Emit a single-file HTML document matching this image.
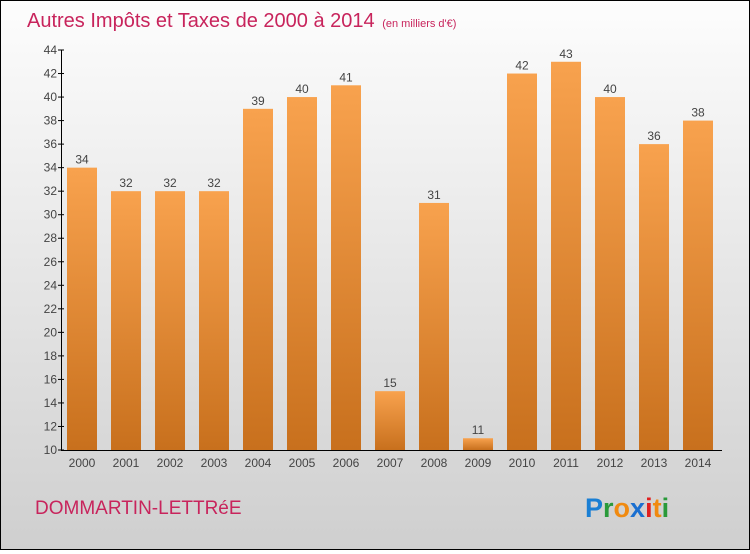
<!DOCTYPE html>
<html><head><meta charset="utf-8"><style>
body{margin:0;width:750px;height:550px;overflow:hidden;font-family:"Liberation Sans",sans-serif}
#c{position:absolute;left:0;top:0;width:748px;height:548px;border:1px solid #000;background:linear-gradient(#fdfdfd,#cfcfcf)}
</style></head><body>
<div id="c">
<svg width="748" height="548">
<defs><linearGradient id="bg" x1="0" y1="0" x2="0" y2="1"><stop offset="0" stop-color="#f8a24e"/><stop offset="1" stop-color="#c8701d"/></linearGradient></defs>
<text x="26" y="26" font-size="20" fill="#c8245c">Autres Impôts et Taxes de 2000 à 2014 <tspan font-size="11" dx="2">(en milliers d'€)</tspan></text>
<g id="plot"></g>
<text x="34" y="513" font-size="19" fill="#c8245c">DOMMARTIN-LETTRéE</text>
<g font-size="27" font-weight="bold" font-family="Liberation Sans, sans-serif">
<text x="584" y="516"><tspan fill="#1a7fd4">P</tspan><tspan fill="#2a9a3a">r</tspan><tspan fill="#f08a10">o</tspan><tspan fill="#1a6fd0">x</tspan><tspan fill="#e02020">i</tspan><tspan fill="#f08a10">t</tspan><tspan fill="#2a9a3a">i</tspan></text></g>
</svg></div>
<script>
const years=["2000","2001","2002","2003","2004","2005","2006","2007","2008","2009","2010","2011","2012","2013","2014"];
const values=[34,32,32,32,39,40,41,15,31,11,42,43,40,36,38];
const yTicks=[10,12,14,16,18,20,22,24,26,28,30,32,34,36,38,40,42,44];
const NS="http://www.w3.org/2000/svg";
const g=document.getElementById('plot');
const y=v=>449-(v-10)*(400/34);
const x=i=>81+i*44;
function el(t,a){const e=document.createElementNS(NS,t);for(const k in a)e.setAttribute(k,a[k]);g.appendChild(e);return e;}
yTicks.forEach(t=>{
 const l=el('line',{x1:57,x2:63,y1:y(t),y2:y(t),stroke:'#000'});
 
 
 const tx=el('text',{x:56,y:y(t)+4,'text-anchor':'end','font-size':12,fill:'#444'});tx.textContent=t;
 
 
});
values.forEach((v,i)=>{
 const r=el('rect',{x:x(i)-15,y:y(v),width:30,height:449-y(v),fill:'url(#bg)'});
 
 
 const lb=el('text',{x:x(i),y:y(v)-4,'text-anchor':'middle','font-size':12,fill:'#444'});lb.textContent=v;
 
 
 const xl=el('text',{x:x(i),y:466,'text-anchor':'middle','font-size':12,fill:'#444'});xl.textContent=years[i];
 
 
});
const ya=el('line',{x1:60.5,x2:60.5,y1:49,y2:450,stroke:'#000'});


const xa=el('line',{x1:60,x2:721,y1:449.5,y2:449.5,stroke:'#000'});


</script>
</body></html>
